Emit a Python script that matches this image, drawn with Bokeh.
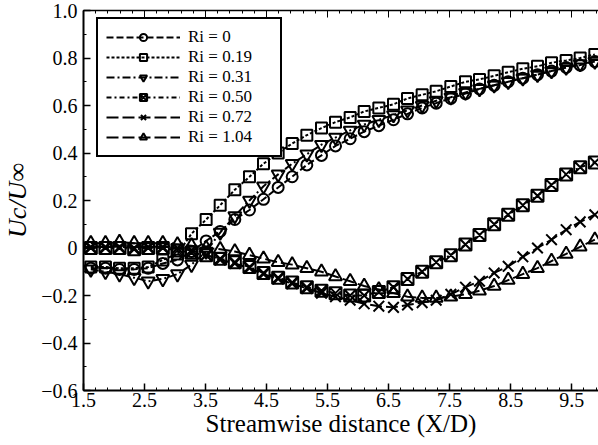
from bokeh.plotting import figure
from bokeh.models import Range1d, LinearAxis, FixedTicker, Legend, LegendItem
from bokeh.embed import file_html
from bokeh.resources import INLINE

# ---- data ----
x = [1.62, 1.86, 2.09, 2.33, 2.56, 2.80, 3.04, 3.27, 3.51, 3.74, 3.98, 4.22,
     4.45, 4.69, 4.92, 5.16, 5.40, 5.63, 5.87, 6.10, 6.34, 6.58, 6.81, 7.05,
     7.28, 7.52, 7.76, 7.99, 8.23, 8.46, 8.70, 8.94, 9.17, 9.41, 9.64, 9.88]

ri_000 = [-0.085, -0.085, -0.09, -0.09, -0.085, -0.065, -0.05, -0.015, 0.03, 0.07,
          0.12, 0.16, 0.205, 0.255, 0.30, 0.35, 0.39, 0.43, 0.46, 0.49, 0.515, 0.54,
          0.565, 0.59, 0.61, 0.63, 0.65, 0.67, 0.685, 0.70, 0.715, 0.73, 0.745, 0.76,
          0.77, 0.785]
ri_019 = [-0.08, -0.08, -0.085, -0.085, -0.08, -0.05, -0.025, 0.06, 0.12, 0.18,
          0.245, 0.30, 0.355, 0.40, 0.44, 0.475, 0.505, 0.53, 0.55, 0.575, 0.59, 0.605,
          0.63, 0.645, 0.66, 0.68, 0.70, 0.71, 0.725, 0.74, 0.755, 0.765, 0.78, 0.79,
          0.80, 0.815]
ri_031 = [-0.09, -0.10, -0.11, -0.125, -0.14, -0.13, -0.11, -0.07, -0.015, 0.065,
          0.135, 0.20, 0.26, 0.31, 0.355, 0.395, 0.435, 0.465, 0.495, 0.52, 0.54, 0.56,
          0.58, 0.60, 0.62, 0.635, 0.655, 0.67, 0.685, 0.70, 0.715, 0.73, 0.745, 0.76,
          0.775, 0.785]
ri_050 = [0.0, 0.0, 0.0, -0.005, 0.0, 0.0, -0.01, -0.02, -0.03, -0.045,
          -0.06, -0.08, -0.105, -0.125, -0.145, -0.165, -0.18, -0.19, -0.20, -0.20, -0.185, -0.165,
          -0.13, -0.10, -0.06, -0.03, 0.015, 0.055, 0.10, 0.14, 0.18, 0.22, 0.265, 0.31,
          0.34, 0.36]
ri_072 = [0.005, 0.005, 0.005, 0.0, 0.005, 0.005, 0.0, -0.01, -0.03, -0.05,
          -0.065, -0.085, -0.11, -0.13, -0.15, -0.17, -0.19, -0.205, -0.22, -0.235, -0.245, -0.25,
          -0.24, -0.23, -0.22, -0.195, -0.165, -0.14, -0.105, -0.077, -0.037, 0.0, 0.035, 0.077,
          0.11, 0.14]
ri_104 = [0.02, 0.02, 0.025, 0.02, 0.02, 0.02, 0.015, 0.01, 0.0, -0.005,
          -0.015, -0.03, -0.045, -0.06, -0.07, -0.085, -0.10, -0.12, -0.14, -0.16, -0.175, -0.19,
          -0.205, -0.21, -0.21, -0.205, -0.195, -0.18, -0.16, -0.135, -0.11, -0.085, -0.055, -0.025,
          0.005, 0.035]

labels = ["Ri = 0", "Ri = 0.19", "Ri = 0.31", "Ri = 0.50", "Ri = 0.72", "Ri = 1.04"]
series = [ri_000, ri_019, ri_031, ri_050, ri_072, ri_104]

x_ticks = [1.5, 2.5, 3.5, 4.5, 5.5, 6.5, 7.5, 8.5, 9.5]
y_ticks = [-0.6, -0.4, -0.2, 0.0, 0.2, 0.4, 0.6, 0.8, 1.0]
y_tick_labels = ["\u22120.6", "\u22120.4", "\u22120.2", "0", "0.2", "0.4", "0.6", "0.8", "1.0"]
x_minor = [round(1.5 + 0.2 * k, 2) for k in range(0, 43)]
y_minor = [round(-0.6 + 0.1 * k, 2) for k in range(0, 17)]
x_title = "Streamwise distance (X/D)"
y_title = "Uc/U\u221e"

# ---- styles ----
markers = ["circle", "square", "inverted_triangle", "square_x", "x", "triangle"]
sizes = [11, 11, 13, 12, 15, 13]
dashes = ["7 3", "3 2", "8 3 2 3", "5 3 2 3", "12 4", "12 4"]
FONT = "Liberation Serif"

p = figure(width=598, height=445, x_range=Range1d(1.5, 9.94), y_range=Range1d(-0.6, 1.0),
           output_backend="svg", toolbar_location=None,
           min_border_left=80, min_border_right=0, min_border_top=10, min_border_bottom=55)
p.outline_line_color = None
p.xgrid.visible = False
p.ygrid.visible = False
p.background_fill_color = "white"
p.border_fill_color = "white"

items = []
for lab, ys, mk, sz, ds in zip(labels, series, markers, sizes, dashes):
    lr = p.line(x, ys, line_color="black", line_width=2, line_dash=ds)
    sr = p.scatter(x, ys, marker=mk, size=sz, line_color="black", line_width=2,
                   fill_color=None)
    items.append(LegendItem(label=lab, renderers=[lr, sr]))

xt = FixedTicker(ticks=x_ticks, minor_ticks=x_minor)
yt = FixedTicker(ticks=y_ticks, minor_ticks=y_minor)

for ax in [p.xaxis[0], p.yaxis[0]]:
    ax.major_tick_in = 7
    ax.major_tick_out = 0
    ax.minor_tick_in = 3
    ax.minor_tick_out = 0
    ax.axis_line_width = 2
    ax.major_tick_line_width = 1.5
    ax.minor_tick_line_width = 1
    ax.major_label_text_font = FONT
    ax.major_label_text_font_size = "20px"
    ax.major_label_text_color = "black"
    ax.axis_label_text_font = FONT
    ax.axis_label_text_font_size = "25px"
    ax.axis_label_text_color = "black"

p.xaxis[0].ticker = xt
p.yaxis[0].ticker = yt
p.yaxis[0].major_label_overrides = {t: s for t, s in zip(y_ticks, y_tick_labels)}
p.xaxis[0].axis_label = x_title
p.xaxis[0].axis_label_text_font_style = "normal"
p.xaxis[0].major_label_standoff = 2
p.xaxis[0].axis_label_standoff = 0
p.yaxis[0].axis_label = y_title
p.yaxis[0].axis_label_text_font_style = "italic"
p.yaxis[0].axis_label_text_font_size = "26px"
p.yaxis[0].major_label_standoff = 6
p.yaxis[0].axis_label_standoff = 6

top = LinearAxis(ticker=xt)
top.major_tick_in = 7
top.major_tick_out = 0
top.minor_tick_in = 3
top.minor_tick_out = 0
top.axis_line_width = 1.5
top.major_label_overrides = {t: "" for t in x_ticks}
top.major_label_text_font_size = "1px"
p.add_layout(top, "above")

legend = Legend(items=items, location=(13, 233), margin=0, padding=8, spacing=0,
                glyph_width=74, glyph_height=18, label_height=18, label_standoff=8,
                label_width=84,
                border_line_color="black", border_line_width=2, border_line_alpha=1,
                background_fill_color="white", background_fill_alpha=1,
                label_text_font=FONT, label_text_font_size="17px",
                label_text_color="black")
p.add_layout(legend)

open("out.html", "w").write(file_html(p, INLINE))
